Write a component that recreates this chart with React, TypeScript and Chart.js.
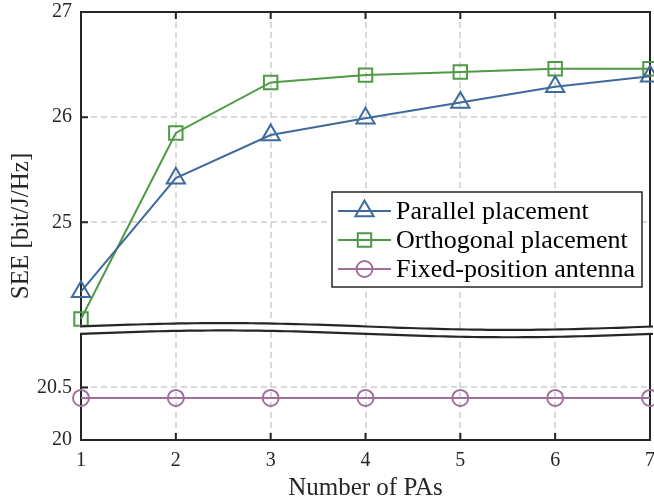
import React, { useEffect, useRef } from 'react';
import { Chart, registerables } from 'chart.js';

Chart.register(...registerables);

// ---- data ----
const xLabels = ['1', '2', '3', '4', '5', '6', '7'];
const parallelSEE = [24.34, 25.42, 25.83, 25.99, 26.14, 26.29, 26.39];
const orthogonalSEE = [24.08, 25.85, 26.33, 26.4, 26.43, 26.46, 26.46];
const fixedSEE = [20.4, 20.4, 20.4, 20.4, 20.4, 20.4, 20.4];
const seriesNames = ['Parallel placement', 'Orthogonal placement', 'Fixed-position antenna'];
const seriesColors = ['#3F6A9C', '#4E9A45', '#A0709A'];
const seriesMarkers = ['triangle', 'rect', 'circle'];
const yTickValues = [20, 20.5, 25, 26, 27];
const yTickLabels = ['20', '20.5', '25', '26', '27'];
const xTitle = 'Number of PAs';
const yTitle = 'SEE [bit/J/Hz]';

// broken axis: lower part 20..21, upper part 24..27
const LOW_MIN = 20;
const LOW_MAX = 21;
const HIGH_MIN = 24;
const HIGH_MAX = 27;
const GAP = 0.07;
const toDisplay = (v: number) =>
  v <= LOW_MAX ? v - LOW_MIN : v - HIGH_MIN + (LOW_MAX - LOW_MIN) + GAP;

const FONT = "'Liberation Serif', 'Times New Roman', serif";
const AXIS_COLOR = '#262626';

const markerRadius: Record<string, number> = { triangle: 10.5, rect: 9.5, circle: 8 };

function drawMarker(ctx: CanvasRenderingContext2D, style: string, r: number, x: number, y: number, color: string) {
  ctx.save();
  ctx.strokeStyle = color;
  ctx.lineWidth = 2;
  ctx.beginPath();
  if (style === 'triangle') {
    let rad = 0;
    ctx.moveTo(x + Math.sin(rad) * r, y - Math.cos(rad) * r);
    rad += (2 * Math.PI) / 3;
    ctx.lineTo(x + Math.sin(rad) * r, y - Math.cos(rad) * r);
    rad += (2 * Math.PI) / 3;
    ctx.lineTo(x + Math.sin(rad) * r, y - Math.cos(rad) * r);
    ctx.closePath();
  } else if (style === 'rect') {
    const s = Math.SQRT1_2 * r;
    ctx.rect(x - s, y - s, 2 * s, 2 * s);
  } else {
    ctx.arc(x, y, r, 0, Math.PI * 2);
  }
  ctx.stroke();
  ctx.restore();
}

const decorPlugin = {
  id: 'decor',
  beforeDatasetsDraw(chart: any) {
    const { ctx, chartArea } = chart;
    const { left, right, top, bottom } = chartArea;
    const xs = chart.scales.x;
    const ys = chart.scales.y;
    ctx.save();
    ctx.strokeStyle = AXIS_COLOR;
    ctx.lineWidth = 2;
    const tl = 7;
    ctx.beginPath();
    for (let i = 0; i < xLabels.length; i++) {
      const px = xs.getPixelForValue(i);
      ctx.moveTo(px, bottom);
      ctx.lineTo(px, bottom - tl);
      ctx.moveTo(px, top);
      ctx.lineTo(px, top + tl);
    }
    for (const v of yTickValues) {
      const py = ys.getPixelForValue(toDisplay(v));
      ctx.moveTo(left, py);
      ctx.lineTo(left + tl, py);
    }
    ctx.stroke();
    ctx.strokeRect(left, top, right - left, bottom - top);
    ctx.restore();
  },
  afterDatasetsDraw(chart: any) {
    const { ctx, chartArea } = chart;
    const { left, right } = chartArea;
    const ys = chart.scales.y;
    const topBase = ys.getPixelForValue(toDisplay(HIGH_MIN)) - 1;
    const botBase = ys.getPixelForValue(toDisplay(LOW_MAX)) - 1;
    const A = 3.4;
    const x0 = left - 2;
    const x1 = right + 2;
    const N = 80;
    const wave = (base: number) => {
      const pts: [number, number][] = [];
      for (let i = 0; i <= N; i++) {
        const t = i / N;
        pts.push([x0 + (x1 - x0) * t, base - A * Math.sin(2 * Math.PI * t)]);
      }
      return pts;
    };
    const w1 = wave(topBase);
    const w2 = wave(botBase);
    ctx.save();
    ctx.fillStyle = '#ffffff';
    ctx.beginPath();
    w1.forEach(([x, y], i) => (i ? ctx.lineTo(x, y) : ctx.moveTo(x, y)));
    for (let i = w2.length - 1; i >= 0; i--) ctx.lineTo(w2[i][0], w2[i][1]);
    ctx.closePath();
    ctx.fill();
    ctx.strokeStyle = AXIS_COLOR;
    ctx.lineWidth = 2.2;
    for (const w of [w1, w2]) {
      ctx.beginPath();
      w.forEach(([x, y], i) => (i ? ctx.lineTo(x + 1, y) : ctx.moveTo(x + 1, y)));
      ctx.stroke();
    }
    ctx.restore();
  },
  afterDraw(chart: any) {
    const { ctx, chartArea } = chart;
    const bx = chartArea.right - 318;
    const by = 192;
    const bw = 310;
    const bh = 95;
    ctx.save();
    ctx.fillStyle = '#ffffff';
    ctx.fillRect(bx, by, bw, bh);
    ctx.strokeStyle = AXIS_COLOR;
    ctx.lineWidth = 1.5;
    ctx.strokeRect(bx, by, bw, bh);
    chart.data.datasets.forEach((ds: any, i: number) => {
      const cy = by + 19 + i * 29;
      const lx0 = bx + 6;
      const lx1 = bx + 59;
      const mx = (lx0 + lx1) / 2;
      ctx.strokeStyle = ds.borderColor;
      ctx.lineWidth = 2;
      ctx.beginPath();
      ctx.moveTo(lx0, cy);
      ctx.lineTo(lx1, cy);
      ctx.stroke();
      drawMarker(ctx, ds.pointStyle, ds.pointRadius, mx, cy, ds.borderColor);
      ctx.fillStyle = '#000000';
      ctx.font = `26px ${FONT}`;
      ctx.textBaseline = 'middle';
      ctx.textAlign = 'left';
      ctx.fillText(ds.label, bx + 64, cy + 1);
    });
    ctx.restore();
  },
};

export default function App() {
  const ref = useRef<HTMLCanvasElement | null>(null);
  useEffect(() => {
    if (!ref.current) return;
    const seriesData = [parallelSEE, orthogonalSEE, fixedSEE];
    const chart = new Chart(ref.current, {
      type: 'line',
      data: {
        labels: xLabels,
        datasets: seriesData.map((vals, i) => ({
          label: seriesNames[i],
          data: vals.map(toDisplay),
          borderColor: seriesColors[i],
          backgroundColor: 'rgba(0,0,0,0)',
          borderWidth: 2,
          pointStyle: seriesMarkers[i] as any,
          pointRadius: markerRadius[seriesMarkers[i]],
          pointBorderWidth: 2,
          pointBorderColor: seriesColors[i],
          pointBackgroundColor: 'rgba(0,0,0,0)',
          tension: 0,
          clip: false as any,
        })),
      },
      options: {
        animation: false,
        responsive: false,
        devicePixelRatio: 1,
        layout: { autoPadding: false, padding: { left: 0, right: 4, top: 12, bottom: 0 } } as any,
        plugins: { legend: { display: false }, tooltip: { enabled: false } },
        scales: {
          x: {
            type: 'category',
            offset: false,
            grid: { color: '#dadada', lineWidth: 2, drawTicks: false, offset: false },
            border: { display: false, dash: [6, 4] },
            ticks: {
              color: AXIS_COLOR,
              font: { family: FONT, size: 20 },
              padding: 9,
              maxRotation: 0,
              autoSkip: false,
            },
            title: {
              display: true,
              text: xTitle,
              color: AXIS_COLOR,
              font: { family: FONT, size: 25 },
              padding: { top: 0, bottom: -2 },
            },
            afterFit: (s: any) => {
              s.height = 61;
              s.paddingLeft = 0;
              s.paddingRight = 0;
            },
          },
          y: {
            type: 'linear',
            min: toDisplay(LOW_MIN),
            max: toDisplay(HIGH_MAX),
            grid: { color: '#dadada', lineWidth: 2, drawTicks: false },
            border: { display: false, dash: [6, 4] },
            afterBuildTicks: (s: any) => {
              s.ticks = yTickValues.map((v) => ({ value: toDisplay(v) }));
            },
            ticks: {
              color: AXIS_COLOR,
              font: { family: FONT, size: 20 },
              padding: 9,
              callback: (_v: any, idx: number) => yTickLabels[idx],
            },
            title: {
              display: true,
              text: yTitle,
              color: AXIS_COLOR,
              font: { family: FONT, size: 25 },
              padding: { top: 6, bottom: 0 },
            },
            afterFit: (s: any) => {
              s.width = 81;
              s.paddingTop = 0;
              s.paddingBottom = 0;
            },
          },
        },
      },
      plugins: [decorPlugin],
    });
    return () => chart.destroy();
  }, []);
  return (
    <div style={{ position: 'fixed', left: 0, top: 0, width: 654, height: 501, background: '#fff' }}>
      <canvas ref={ref} width={654} height={501} />
    </div>
  );
}
